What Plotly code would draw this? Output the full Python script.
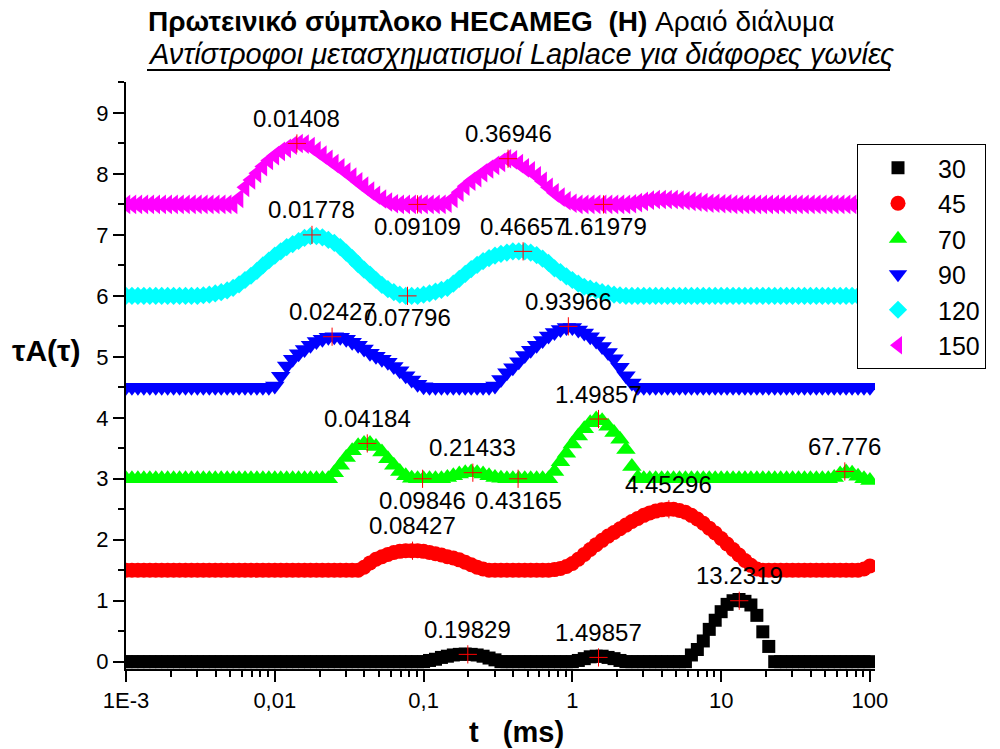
import numpy as np
import plotly.graph_objects as go

# Time grid of the inverse Laplace transforms (ms), 25 samples per decade
T = np.logspace(-3, 2, 126)

ANGLES = ["30", "45", "70", "90", "120", "150"]

TA_30 = [
    0.0, 0.0, 0.0, 0.0, 0.0, 0.0, 0.0, 0.0, 0.0, 0.0,
    0.0, 0.0, 0.0, 0.0, 0.0, 0.0, 0.0, 0.0, 0.0, 0.0,
    0.0, 0.0, 0.0, 0.0, 0.0, 0.0, 0.0, 0.0, 0.0, 0.0,
    0.0, 0.0, 0.0, 0.0, 0.0, 0.0, 0.0, 0.0, 0.0, 0.0,
    0.0, 0.0, 0.0, 0.0, 0.0, 0.0, 0.0, 0.0, 0.0, 0.0,
    0.0, 0.02, 0.04, 0.07, 0.09, 0.11, 0.12, 0.125, 0.12, 0.11,
    0.09, 0.06, 0.03, 0.0,
    0.0, 0.0, 0.0, 0.0, 0.0, 0.0, 0.0, 0.0, 0.0, 0.0, 0.0, 0.0,
    0.02, 0.05, 0.08, 0.09, 0.09, 0.07, 0.05, 0.02,
    0.0, 0.0, 0.0, 0.0, 0.0, 0.0, 0.0, 0.0, 0.0, 0.0, 0.0,
    0.11, 0.2, 0.34, 0.53, 0.68, 0.82, 0.94, 1.0, 1.02, 0.99,
    0.93, 0.76, 0.49, 0.25,
    0.0, 0.0, 0.0, 0.0, 0.0, 0.0, 0.0, 0.0, 0.0, 0.0,
    0.0, 0.0, 0.0, 0.0, 0.0, 0.0, 0.0,
]

TA_45 = [
    1.5, 1.5, 1.5, 1.5, 1.5, 1.5, 1.5, 1.5, 1.5, 1.5,
    1.5, 1.5, 1.5, 1.5, 1.5, 1.5, 1.5, 1.5, 1.5, 1.5,
    1.5, 1.5, 1.5, 1.5, 1.5, 1.5, 1.5, 1.5, 1.5, 1.5,
    1.5, 1.5, 1.5, 1.5, 1.5, 1.5, 1.5, 1.5, 1.5,
    1.5, 1.55, 1.62, 1.68, 1.72, 1.76, 1.79, 1.81, 1.82, 1.82,
    1.82, 1.81, 1.79, 1.77, 1.75, 1.72, 1.7, 1.67, 1.63, 1.59,
    1.55, 1.52,
    1.5, 1.5, 1.5, 1.5, 1.5, 1.5, 1.5, 1.5, 1.5,
    1.5, 1.5, 1.51, 1.53, 1.56, 1.61, 1.68, 1.76, 1.84, 1.92,
    1.99, 2.06, 2.12, 2.18, 2.24, 2.3, 2.35, 2.4, 2.44, 2.47,
    2.49, 2.5, 2.5, 2.48, 2.45, 2.4, 2.34, 2.27, 2.19, 2.11,
    2.02, 1.93, 1.84, 1.75, 1.66, 1.58, 1.52,
    1.5, 1.5, 1.5, 1.5, 1.5, 1.5, 1.5, 1.5, 1.5, 1.5,
    1.5, 1.5, 1.5, 1.5, 1.5, 1.5, 1.5, 1.52, 1.57,
]

TA_70 = [
    3.0, 3.0, 3.0, 3.0, 3.0, 3.0, 3.0, 3.0, 3.0, 3.0,
    3.0, 3.0, 3.0, 3.0, 3.0, 3.0, 3.0, 3.0, 3.0, 3.0,
    3.0, 3.0, 3.0, 3.0, 3.0, 3.0, 3.0, 3.0, 3.0, 3.0,
    3.0, 3.0, 3.0, 3.0,
    3.0, 3.1, 3.22, 3.35, 3.46, 3.54, 3.58, 3.58, 3.53, 3.44,
    3.33, 3.22, 3.12, 3.05, 3.01, 3.0, 3.0, 3.0, 3.0,
    3.0, 3.02, 3.05, 3.08, 3.1, 3.11, 3.1, 3.08, 3.05, 3.02,
    3.01, 3.0, 3.0, 3.0, 3.0, 3.0, 3.0, 3.0,
    3.0, 3.12, 3.28, 3.42, 3.57, 3.7, 3.82, 3.92, 3.98, 3.95,
    3.86, 3.76, 3.65, 3.48, 3.2, 3.02,
    3.0, 3.0, 3.0, 3.0, 3.0, 3.0, 3.0, 3.0, 3.0, 3.0,
    3.0, 3.0, 3.0, 3.0, 3.0, 3.0, 3.0, 3.0, 3.0, 3.0,
    3.0, 3.0, 3.0, 3.0, 3.0, 3.0, 3.0, 3.0, 3.0, 3.0, 3.0,
    3.0, 3.02, 3.08, 3.11, 3.09, 3.04, 3.0, 2.97,
]

TA_90 = [
    4.5, 4.5, 4.5, 4.5, 4.5, 4.5, 4.5, 4.5, 4.5, 4.5,
    4.5, 4.5, 4.5, 4.5, 4.5, 4.5, 4.5, 4.5, 4.5, 4.5,
    4.5, 4.5, 4.5, 4.5, 4.5,
    4.52, 4.68, 4.85, 4.96, 5.05, 5.12, 5.19, 5.25, 5.29, 5.32,
    5.33, 5.32, 5.29, 5.24, 5.19, 5.13, 5.06, 5.01, 4.96, 4.91,
    4.84, 4.77, 4.69, 4.62, 4.55, 4.51,
    4.5, 4.5, 4.5, 4.5, 4.5, 4.5, 4.5, 4.5, 4.5, 4.5, 4.5,
    4.52, 4.63, 4.74, 4.82, 4.92, 5.02, 5.11, 5.19, 5.27, 5.34,
    5.4, 5.45, 5.48, 5.48, 5.44, 5.39, 5.33, 5.26, 5.17, 5.07,
    4.97, 4.83, 4.69, 4.57, 4.5,
    4.5, 4.5, 4.5, 4.5, 4.5, 4.5, 4.5, 4.5, 4.5, 4.5,
    4.5, 4.5, 4.5, 4.5, 4.5, 4.5, 4.5, 4.5, 4.5, 4.5,
    4.5, 4.5, 4.5, 4.5, 4.5, 4.5, 4.5, 4.5, 4.5, 4.5,
    4.5, 4.5, 4.5, 4.5, 4.5, 4.5, 4.5, 4.5, 4.5,
]

TA_120 = [
    6.0, 6.0, 6.0, 6.0, 6.0, 6.0, 6.0, 6.0, 6.0, 6.0,
    6.0, 6.0, 6.0,
    6.01, 6.02, 6.04, 6.06, 6.09, 6.13, 6.19, 6.26, 6.33, 6.41,
    6.5, 6.58, 6.66, 6.73, 6.8, 6.85, 6.9, 6.95, 6.98, 6.98,
    6.96, 6.92, 6.87, 6.8, 6.71, 6.62, 6.52, 6.43, 6.35, 6.26,
    6.18, 6.11, 6.06, 6.02, 6.0,
    6.0, 6.0, 6.02, 6.04, 6.07, 6.1, 6.13, 6.2, 6.28, 6.36,
    6.44, 6.51, 6.57, 6.62, 6.66, 6.69, 6.71, 6.73, 6.73, 6.73,
    6.71, 6.67, 6.61, 6.54, 6.45, 6.39, 6.32, 6.26, 6.2, 6.15,
    6.12, 6.09, 6.06, 6.04, 6.02, 6.01, 6.0,
    6.0, 6.0, 6.0, 6.0, 6.0, 6.0, 6.0, 6.0, 6.0, 6.0,
    6.0, 6.0, 6.0, 6.0, 6.0, 6.0, 6.0, 6.0, 6.0, 6.0,
    6.0, 6.0, 6.0, 6.0, 6.0, 6.0, 6.0, 6.0, 6.0, 6.0,
    6.0, 6.0, 6.0, 6.0, 6.0, 6.0, 6.0, 6.0, 6.0, 6.0, 6.0,
]

TA_150 = [
    7.5, 7.5, 7.5, 7.5, 7.5, 7.5, 7.5, 7.5, 7.5, 7.5,
    7.5, 7.5, 7.5, 7.5, 7.5, 7.5, 7.5, 7.5, 7.5,
    7.6, 7.78, 7.9, 8.01, 8.12, 8.22, 8.3, 8.37, 8.42, 8.47,
    8.5, 8.49, 8.45, 8.38, 8.31, 8.24, 8.17, 8.1, 8.03, 7.95,
    7.87, 7.8, 7.72, 7.65, 7.59, 7.54, 7.51,
    7.5, 7.5, 7.5, 7.5, 7.5, 7.5, 7.5, 7.5,
    7.52, 7.6, 7.7, 7.8, 7.88, 7.94, 8.02, 8.08, 8.14, 8.19,
    8.25, 8.23, 8.17, 8.1, 8.05, 7.97, 7.88, 7.78, 7.69, 7.62,
    7.56, 7.52, 7.5,
    7.5, 7.5, 7.5, 7.5, 7.5, 7.5, 7.5, 7.5,
    7.51, 7.53, 7.55, 7.57, 7.58, 7.58, 7.58, 7.58, 7.57, 7.56,
    7.55, 7.54, 7.53, 7.52, 7.52, 7.51, 7.51,
    7.5, 7.5, 7.5, 7.5, 7.5, 7.5, 7.5, 7.5, 7.5, 7.5,
    7.5, 7.5, 7.5, 7.5, 7.5, 7.5, 7.5, 7.5, 7.5, 7.5,
    7.5, 7.5, 7.5, 7.5,
]

SERIES = [TA_30, TA_45, TA_70, TA_90, TA_120, TA_150]

# Marked extrema: the label is the time (ms) of the extremum
MARK_LABELS = [
    "0.19829", "1.49857", "13.2319",
    "0.08427", "4.45296",
    "0.04184", "0.09846", "0.21433", "0.43165", "1.49857", "67.776",
    "0.02427", "0.93966",
    "0.01778", "0.07796", "0.46657",
    "0.01408", "0.09109", "0.36946", "1.61979",
]
MARK_Y = [
    0.12, 0.07, 1.0,
    1.82, 2.5,
    3.58, 3.0, 3.1, 3.0, 3.98, 3.12,
    5.33, 5.5,
    7.0, 6.0, 6.73,
    8.5, 7.5, 8.25, 7.5,
]
MARK_SIDE = [
    "up", "up", "up",
    "up", "up",
    "up", "down", "up", "down", "up", "up",
    "up", "up",
    "up", "down", "up",
    "up", "down", "up", "down",
]

X_TICKS = [0.001, 0.01, 0.1, 1, 10, 100]
X_TICK_TEXT = ["1E-3", "0,01", "0,1", "1", "10", "100"]

STYLES = [
    dict(symbol="square", color="#000000", size=13),
    dict(symbol="circle", color="#FF0000", size=15),
    dict(symbol="triangle-up", color="#00FF00", size=17),
    dict(symbol="triangle-down", color="#0000FF", size=17),
    dict(symbol="diamond", color="#00FFFF", size=14),
    dict(symbol="triangle-left", color="#FF00FF", size=17),
]

W, H = 1000, 749
L, R, TOP, B = 126, 125, 82, 80
PW, PH = W - L - R, H - TOP - B


def px(x):
    return (x - L) / PW


def py(y):
    return (H - B - y) / PH


FONT = "Liberation Sans, Arial, sans-serif"

fig = go.Figure()

for name, vals, st in zip(ANGLES, SERIES, STYLES):
    fig.add_trace(go.Scatter(
        x=T, y=vals, mode="markers", name=name,
        marker=dict(symbol=st["symbol"], color=st["color"], size=st["size"],
                    line=dict(width=0)),
    ))

mark_t = [float(s) for s in MARK_LABELS]
fig.add_trace(go.Scatter(
    x=mark_t, y=MARK_Y, mode="markers", showlegend=False,
    marker=dict(symbol="cross-thin", size=13, color="#FF0000",
                line=dict(color="#FF0000", width=1)),
))

annotations = []
for label, t, y, side in zip(MARK_LABELS, mark_t, MARK_Y, MARK_SIDE):
    annotations.append(dict(
        x=np.log10(t), y=y, xref="x", yref="y", text=label, showarrow=False,
        yshift=25 if side == "up" else -22,
        font=dict(family=FONT, size=24, color="black"),
    ))

# Two-line heading
annotations.append(dict(
    x=px(146), y=py(22), xref="paper", yref="paper", xanchor="left", yanchor="middle",
    text="<b>Πρωτεινικό σύμπλοκο HECAMEG\u00a0\u00a0(H)</b> Αραιό διάλυμα",
    showarrow=False, font=dict(family=FONT, size=28, color="black"),
))
annotations.append(dict(
    x=px(146), y=py(54), xref="paper", yref="paper", xanchor="left", yanchor="middle",
    text="<i>Αντίστροφοι μετασχηματισμοί Laplace για διάφορες γωνίες</i>",
    showarrow=False, font=dict(family=FONT, size=29, color="black"),
))
# Axis titles
annotations.append(dict(
    x=px(46), y=py(350), xref="paper", yref="paper", xanchor="center", yanchor="middle",
    text="<b>τA(τ)</b>", showarrow=False,
    font=dict(family=FONT, size=30, color="black"),
))
annotations.append(dict(
    x=px(516), y=py(732), xref="paper", yref="paper", xanchor="center", yanchor="middle",
    text="<b>t\u00a0\u00a0\u00a0(ms)</b>", showarrow=False,
    font=dict(family=FONT, size=29, color="black"),
))

shapes = [dict(
    type="line", xref="paper", yref="paper",
    x0=px(147), x1=px(890), y0=py(70), y1=py(70),
    line=dict(color="black", width=2),
)]

minor_x = [k * 10.0 ** d for d in range(-3, 2) for k in range(2, 10)]

fig.update_layout(
    width=W, height=H,
    margin=dict(l=L, r=R, t=TOP, b=B, autoexpand=False),
    plot_bgcolor="white", paper_bgcolor="white",
    font=dict(family=FONT, color="black"),
    annotations=annotations, shapes=shapes,
    legend=dict(
        x=px(857), y=py(144), xanchor="left", yanchor="top",
        bordercolor="black", borderwidth=1, bgcolor="white",
        font=dict(family=FONT, size=25, color="black"),
        itemwidth=70, tracegroupgap=0,
    ),
)

fig.update_xaxes(
    type="log", range=[-3, 2.034],
    tickvals=X_TICKS, ticktext=X_TICK_TEXT,
    ticks="outside", ticklen=11, tickwidth=2, tickcolor="black",
    tickfont=dict(family=FONT, size=22, color="black"),
    showline=True, linecolor="black", linewidth=2,
    showgrid=False, zeroline=False,
    minor=dict(tickvals=minor_x, ticks="outside", ticklen=6, tickwidth=2,
               tickcolor="black", showgrid=False),
)

fig.update_yaxes(
    range=[-0.12, 9.508], tickmode="linear", tick0=0, dtick=1,
    ticks="outside", ticklen=11, tickwidth=2, tickcolor="black",
    tickfont=dict(family=FONT, size=22, color="black"),
    showline=True, linecolor="black", linewidth=2,
    showgrid=False, zeroline=False,
    minor=dict(dtick=0.5, ticks="outside", ticklen=6, tickwidth=2,
               tickcolor="black", showgrid=False),
)

fig.write_html("out.html")
